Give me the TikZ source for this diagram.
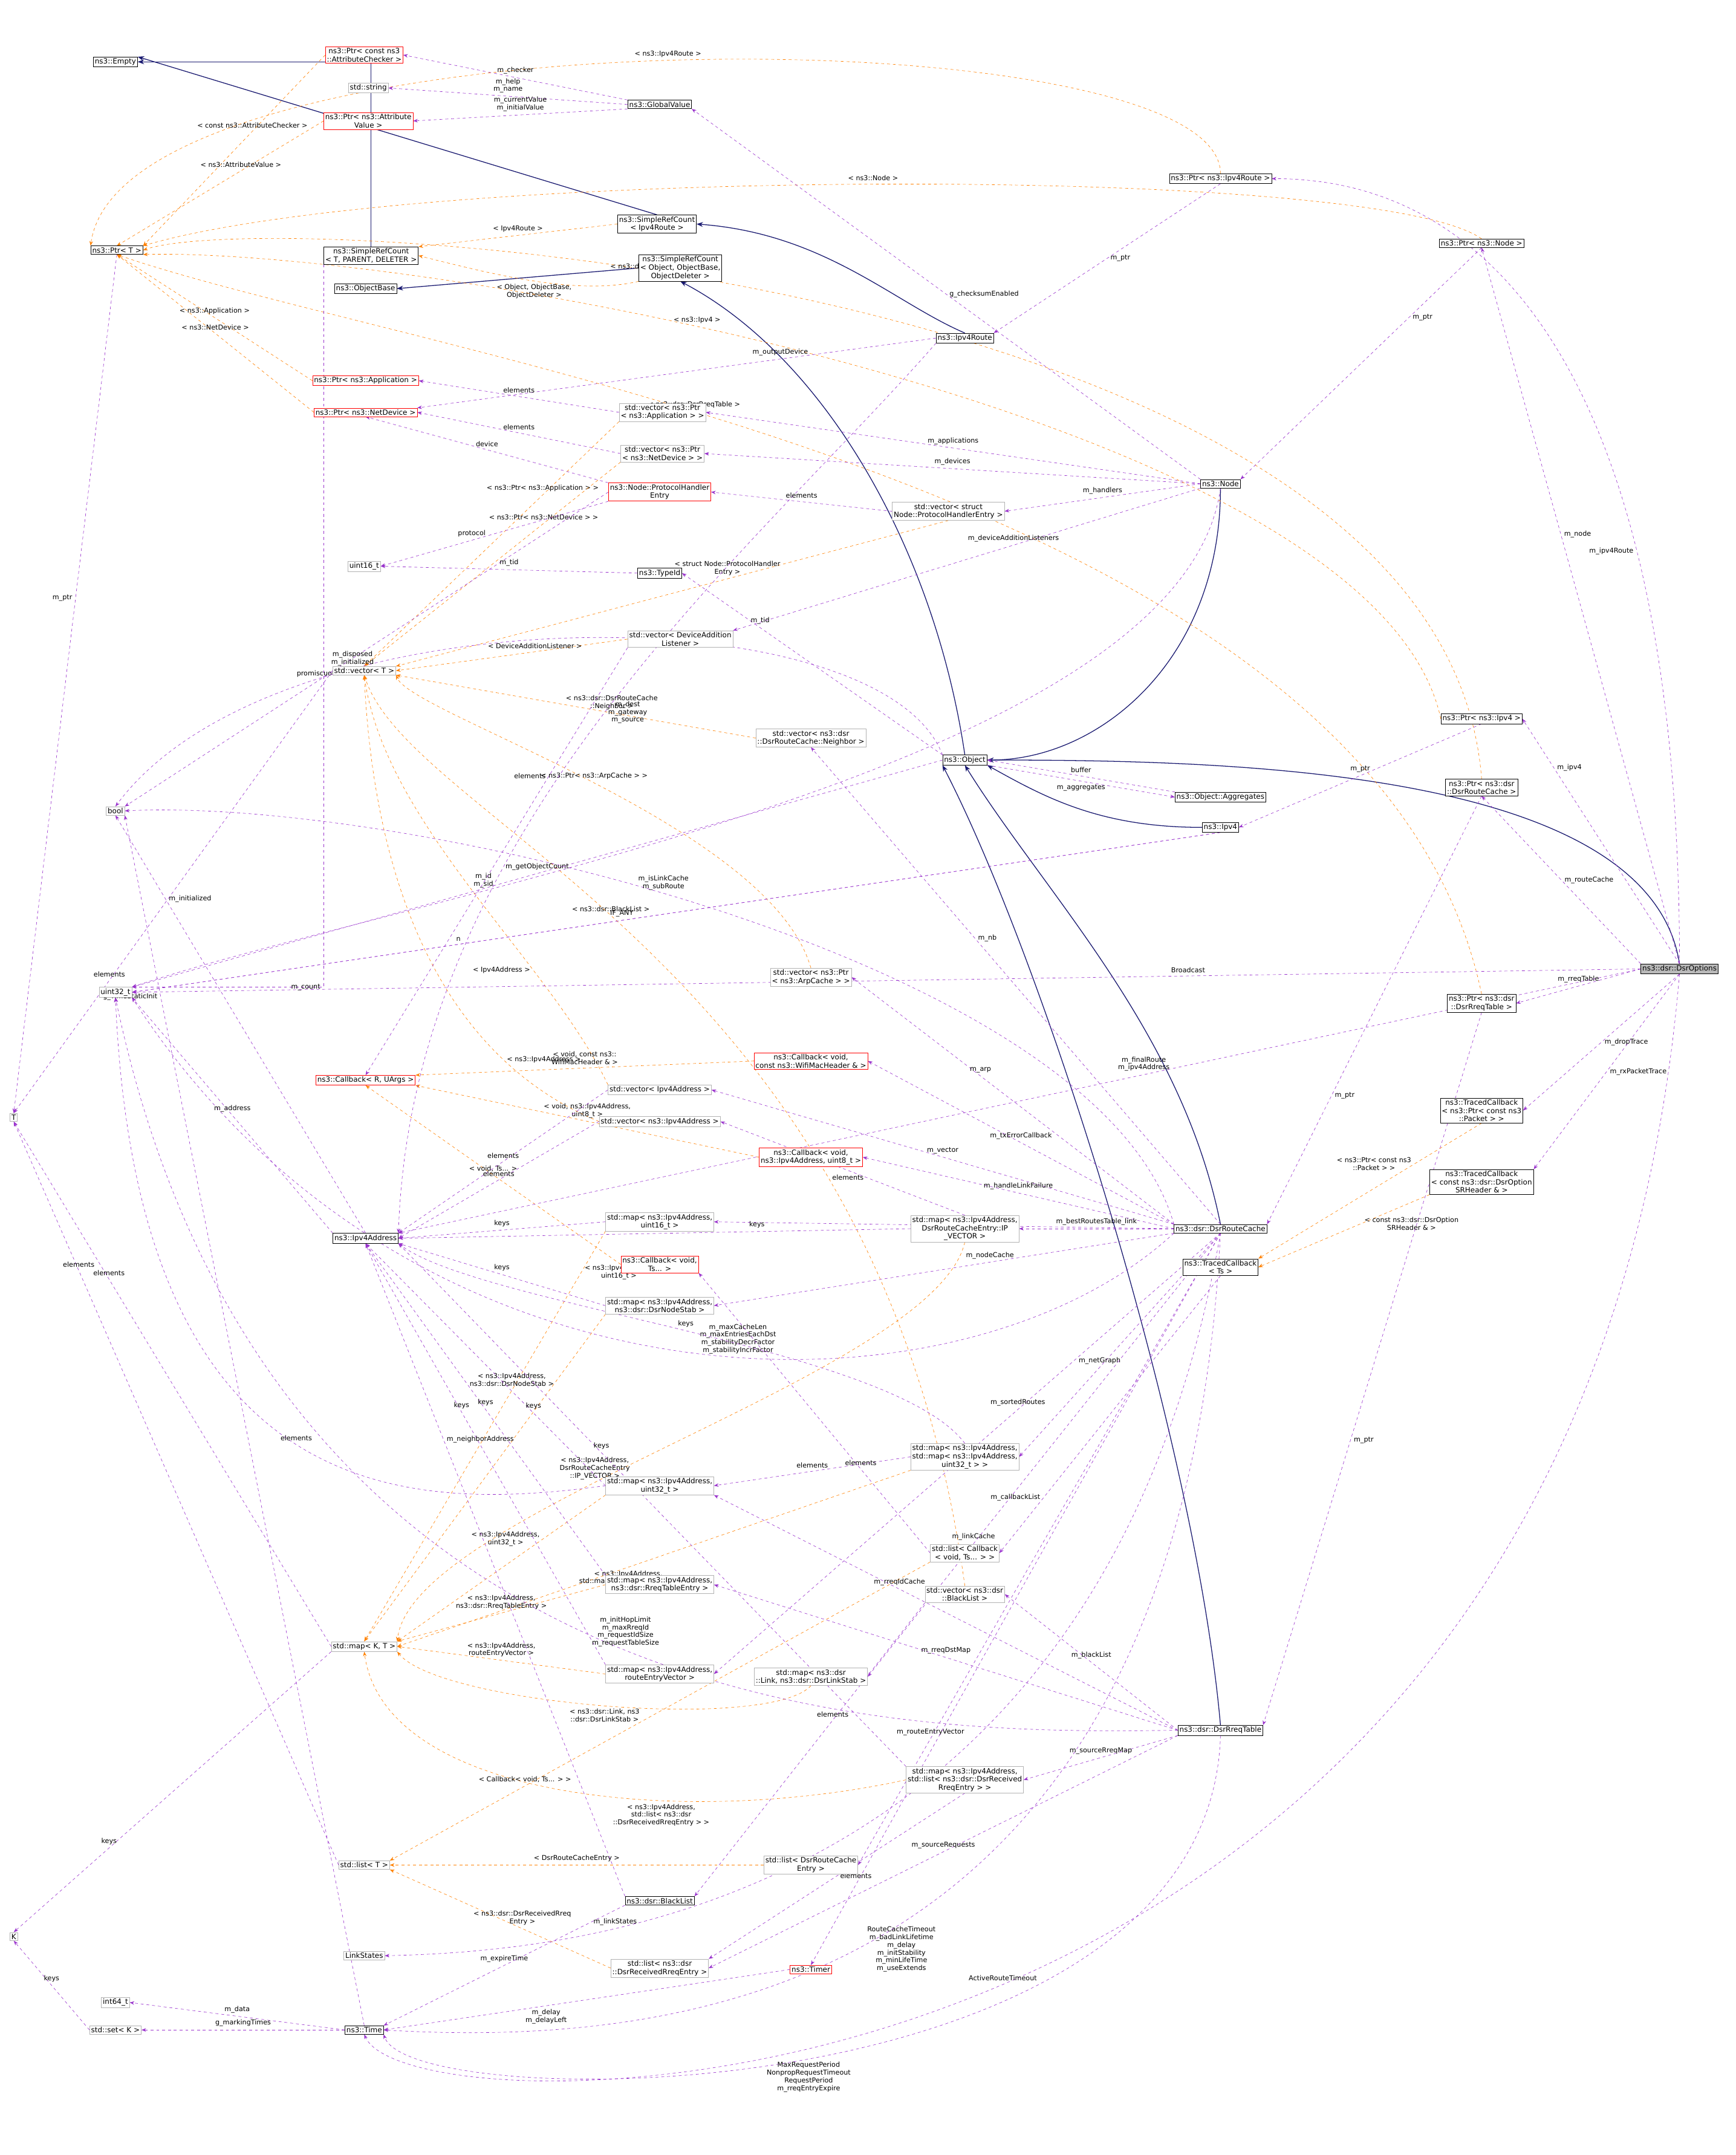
\documentclass[tikz,border=0pt]{standalone}
\usepackage{fontspec}
\setmainfont{DejaVu Sans}
\usetikzlibrary{arrows.meta}
\pgfdeclarelayer{bg}\pgfsetlayers{bg,main}
\begin{document}
\begin{tikzpicture}[x=0.05cm,y=-0.05cm,
 every node/.style={font=\fontsize{7.5}{8.5}\selectfont},
 cls/.style={draw=black,align=center,inner sep=1.5pt,fill=white},
 rcls/.style={draw=red,align=center,inner sep=1.5pt,fill=white},
 gcls/.style={draw=gray!60,align=center,inner sep=1.5pt,fill=white},
 mcls/.style={draw=black,fill=gray!55,align=center,inner sep=1.5pt},
 inh/.style={draw={rgb,255:red,25;green,25;blue,112},thick,-{Stealth}},
 mem/.style={draw={rgb,255:red,153;green,50;blue,204},dashed,-{Stealth}},
 tpl/.style={draw=orange,dashed,-{Stealth}},
 lb/.style={align=center,font=\fontsize{7}{8}\selectfont}]
\useasboundingbox (0,0) rectangle (1263,1568);
% nodes
\node[cls] (empty) at (84,45) {ns3::Empty};
\node[rcls] (pac) at (265,40) {ns3::Ptr< const ns3\\::AttributeChecker >};
\node[gcls] (str) at (268,64) {std::string};
\node[rcls] (pav) at (268,88) {ns3::Ptr< ns3::Attribute\\Value >};
\node[cls] (gv) at (480,76) {ns3::GlobalValue};
\node[cls] (srcr) at (478,163) {ns3::SimpleRefCount\\< Ipv4Route >};
\node[cls] (srct) at (270,186) {ns3::SimpleRefCount\\< T, PARENT, DELETER >};
\node[cls] (ptrT) at (85,182) {ns3::Ptr< T >};
\node[cls] (ob) at (266,210) {ns3::ObjectBase};
\node[cls] (srco) at (495,195) {ns3::SimpleRefCount\\< Object, ObjectBase,\\ObjectDeleter >};
\node[cls] (pir) at (888,130) {ns3::Ptr< ns3::Ipv4Route >};
\node[cls] (pnode) at (1078,177) {ns3::Ptr< ns3::Node >};
\node[cls] (iroute) at (702,246) {ns3::Ipv4Route};
\node[rcls] (papp) at (266,277) {ns3::Ptr< ns3::Application >};
\node[rcls] (pnd) at (266,300) {ns3::Ptr< ns3::NetDevice >};
\node[gcls] (vapp) at (482,300) {std::vector< ns3::Ptr\\< ns3::Application > >};
\node[gcls] (vnd) at (482,330) {std::vector< ns3::Ptr\\< ns3::NetDevice > >};
\node[rcls] (phe) at (480,358) {ns3::Node::ProtocolHandler\\Entry};
\node[cls] (node) at (888,352) {ns3::Node};
\node[gcls] (vphe) at (690,372) {std::vector< struct\\Node::ProtocolHandlerEntry >};
\node[gcls] (u16) at (265,412) {uint16\_t};
\node[cls] (tid) at (480,417) {ns3::TypeId};
\node[gcls] (vdal) at (495,465) {std::vector< DeviceAddition\\Listener >};
\node[gcls] (vT) at (265,488) {std::vector< T >};
\node[gcls] (vnb) at (590,537) {std::vector< ns3::dsr\\::DsrRouteCache::Neighbor >};
\node[cls] (obj) at (702,553) {ns3::Object};
\node[gcls] (bool) at (84,590) {bool};
\node[cls] (pipv4) at (1078,523) {ns3::Ptr< ns3::Ipv4 >};
\node[cls] (prc) at (1078,573) {ns3::Ptr< ns3::dsr\\::DsrRouteCache >};
\node[cls] (agg) at (888,580) {ns3::Object::Aggregates};
\node[cls] (ipv4) at (888,602) {ns3::Ipv4};
\node[mcls] (opt) at (1222,705) {ns3::dsr::DsrOptions};
\node[gcls] (varp) at (590,711) {std::vector< ns3::Ptr\\< ns3::ArpCache > >};
\node[gcls] (u32) at (84,722) {uint32\_t};
\node[cls] (prt) at (1078,730) {ns3::Ptr< ns3::dsr\\::DsrRreqTable >};
\node[rcls] (cbw) at (590,772) {ns3::Callback< void,\\const ns3::WifiMacHeader \& >};
\node[rcls] (cbR) at (266,786) {ns3::Callback< R, UArgs >};
\node[gcls] (via) at (480,793) {std::vector< Ipv4Address >};
\node[gcls] (T) at (10,813) {T};
\node[gcls] (vnia) at (480,816) {std::vector< ns3::Ipv4Address >};
\node[cls] (tcp) at (1078,808) {ns3::TracedCallback\\< ns3::Ptr< const ns3\\::Packet > >};
\node[rcls] (cbi) at (590,842) {ns3::Callback< void,\\ns3::Ipv4Address, uint8\_t >};
\node[cls] (tcs) at (1078,860) {ns3::TracedCallback\\< const ns3::dsr::DsrOption\\SRHeader \& >};
\node[cls] (ia) at (266,901) {ns3::Ipv4Address};
\node[gcls] (m16) at (480,889) {std::map< ns3::Ipv4Address,\\uint16\_t >};
\node[gcls] (mipv) at (702,894) {std::map< ns3::Ipv4Address,\\DsrRouteCacheEntry::IP\\\_VECTOR >};
\node[cls] (rc) at (888,894) {ns3::dsr::DsrRouteCache};
\node[cls] (tcT) at (888,922) {ns3::TracedCallback\\< Ts >};
\node[rcls] (cbv) at (480,920) {ns3::Callback< void,\\Ts... >};
\node[gcls] (mns) at (480,950) {std::map< ns3::Ipv4Address,\\ns3::dsr::DsrNodeStab >};
\node[gcls] (mmap) at (702,1060) {std::map< ns3::Ipv4Address,\\std::map< ns3::Ipv4Address,\\uint32\_t > >};
\node[gcls] (m32) at (480,1081) {std::map< ns3::Ipv4Address,\\uint32\_t >};
\node[gcls] (lcb) at (702,1130) {std::list< Callback\\< void, Ts... > >};
\node[gcls] (mrte) at (480,1153) {std::map< ns3::Ipv4Address,\\ns3::dsr::RreqTableEntry >};
\node[gcls] (vbl) at (702,1160) {std::vector< ns3::dsr\\::BlackList >};
\node[gcls] (mKT) at (265,1198) {std::map< K, T >};
\node[gcls] (mrev) at (480,1218) {std::map< ns3::Ipv4Address,\\routeEntryVector >};
\node[gcls] (mlink) at (590,1220) {std::map< ns3::dsr\\::Link, ns3::dsr::DsrLinkStab >};
\node[cls] (rt) at (888,1259) {ns3::dsr::DsrRreqTable};
\node[gcls] (mlist) at (702,1295) {std::map< ns3::Ipv4Address,\\std::list< ns3::dsr::DsrReceived\\RreqEntry > >};
\node[gcls] (lT) at (265,1357) {std::list< T >};
\node[gcls] (lrce) at (590,1357) {std::list< DsrRouteCache\\Entry >};
\node[cls] (bl) at (480,1383) {ns3::dsr::BlackList};
\node[gcls] (K) at (10,1409) {K};
\node[gcls] (ls) at (265,1423) {LinkStates};
\node[gcls] (lrre) at (480,1432) {std::list< ns3::dsr\\::DsrReceivedRreqEntry >};
\node[rcls] (timer) at (590,1433) {ns3::Timer};
\node[gcls] (i64) at (84,1457) {int64\_t};
\node[gcls] (sK) at (84,1477) {std::set< K >};
\node[cls] (time) at (265,1477) {ns3::Time};
\begin{pgfonlayer}{bg}
% inheritance
\draw[inh] (srct.north) -- (srct.north|-empty.east) -- (empty.east);
\draw[inh] (srcr.north) -- (empty.north east);
\draw[inh] (srco.west) -- (ob.east);
\draw[inh] (iroute.north) .. controls (650,220) and (600,170) .. (srcr.east);
\draw[inh] (obj.north) .. controls (680,400) and (600,260) .. (srco.south);
\draw[inh] (node.south) .. controls (888,480) and (800,553) .. (obj.east);
\draw[inh] (ipv4.west) .. controls (800,602) and (760,580) .. (obj.south east);
\draw[inh] (opt.north) .. controls (1200,560) and (900,553) .. (obj.east);
\draw[inh] (rc.north) .. controls (860,750) and (760,650) .. (obj.south);
\draw[inh] (rt.north) .. controls (870,1050) and (760,700) .. (obj.south west);
% templates
\draw[tpl] (pac.west) -- node[lb,above,pos=.4]{< const ns3::AttributeChecker >} (ptrT.north east);
\draw[tpl] (pav.west) -- node[lb,above,pos=.4]{< ns3::AttributeValue >} (ptrT.north);
\draw[tpl] (pir.north) .. controls (888,8) and (90,8) .. node[lb,above]{< ns3::Ipv4Route >} (ptrT.north west);
\draw[tpl] (pnode.north) .. controls (1000,118) and (300,122) .. node[lb,above,pos=.5]{< ns3::Node >} (ptrT.north east);
\draw[tpl] (srcr.west) -- node[lb,above]{< Ipv4Route >} (srct.north east);
\draw[tpl] (srco.south west) .. controls (420,215) and (360,200) .. node[lb,below,pos=.5]{< Object, ObjectBase,\\ObjectDeleter >} (srct.east);
\draw[tpl] (prc.north) .. controls (1050,200) and (200,150) .. node[lb,above,pos=.6]{< ns3::dsr::DsrRouteCache >} (ptrT.east);
\draw[tpl] (pipv4.west) .. controls (1000,300) and (300,180) .. node[lb,above,pos=.6]{< ns3::Ipv4 >} (ptrT.south east);
\draw[tpl] (prt.north) .. controls (1000,350) and (300,260) .. node[lb,above,pos=.6]{< ns3::dsr::DsrRreqTable >} (ptrT.south);
\draw[tpl] (papp.west) -- node[lb,above]{< ns3::Application >} (ptrT.south);
\draw[tpl] (pnd.west) -- node[lb,above]{< ns3::NetDevice >} (ptrT.south);
\draw[tpl] (vapp.south west) -- node[lb,above,pos=.3]{< ns3::Ptr< ns3::Application > >} (vT.north);
\draw[tpl] (vnd.south west) -- node[lb,above,pos=.3]{< ns3::Ptr< ns3::NetDevice > >} (vT.north);
\draw[tpl] (vphe.south) -- node[lb,above,pos=.4]{< struct Node::ProtocolHandler\\Entry >} (vT.north east);
\draw[tpl] (vdal.west) -- node[lb,above,pos=.4]{< DeviceAdditionListener >} (vT.east);
\draw[tpl] (vnb.west) -- node[lb,above,pos=.4]{< ns3::dsr::DsrRouteCache\\::Neighbor >} (vT.south east);
\draw[tpl] (varp.north) .. controls (560,600) and (300,520) .. node[lb,above,pos=.5]{< ns3::Ptr< ns3::ArpCache > >} (vT.south east);
\draw[tpl] (vbl.north) .. controls (640,700) and (300,600) .. node[lb,above,pos=.55]{< ns3::dsr::BlackList >} (vT.south);
\draw[tpl] (via.north west) .. controls (400,700) and (280,600) .. node[lb,left,pos=.3]{< Ipv4Address >} (vT.south);
\draw[tpl] (vnia.west) .. controls (300,760) and (270,600) .. node[lb,right,pos=.2]{< ns3::Ipv4Address >} (vT.south);
\draw[tpl] (cbw.west) -- node[lb,above,pos=.5]{< void, const ns3::\\WifiMacHeader \& >} (cbR.north east);
\draw[tpl] (cbi.west) -- node[lb,above,pos=.5]{< void, ns3::Ipv4Address,\\uint8\_t >} (cbR.south east);
\draw[tpl] (cbv.west) -- node[lb,above,pos=.5]{< void, Ts... >} (cbR.south);
\draw[tpl] (tcp.south) -- node[lb,left,pos=.3]{< ns3::Ptr< const ns3\\::Packet > >} (tcT.north east);
\draw[tpl] (tcs.south west) -- node[lb,right,pos=.4]{< const ns3::dsr::DsrOption\\SRHeader \& >} (tcT.east);
\draw[tpl] (m16.south west) -- node[lb,right,pos=.1]{< ns3::Ipv4Address,\\uint16\_t >} (mKT.north);
\draw[tpl] (mipv.south) .. controls (680,1000) and (300,1100) .. node[lb,above,pos=.6]{< ns3::Ipv4Address,\\DsrRouteCacheEntry\\::IP\_VECTOR >} (mKT.north east);
\draw[tpl] (mns.south west) -- node[lb,left,pos=.2]{< ns3::Ipv4Address,\\ns3::dsr::DsrNodeStab >} (mKT.north);
\draw[tpl] (mmap.south west) -- node[lb,below,pos=.55]{< ns3::Ipv4Address,\\std::map< ns3::Ipv4Address,\\uint32\_t > >} (mKT.east);
\draw[tpl] (m32.south west) -- node[lb,left,pos=.3]{< ns3::Ipv4Address,\\uint32\_t >} (mKT.north east);
\draw[tpl] (mrte.west) -- node[lb,above,pos=.5]{< ns3::Ipv4Address,\\ns3::dsr::RreqTableEntry >} (mKT.north east);
\draw[tpl] (mrev.west) -- node[lb,above,pos=.5]{< ns3::Ipv4Address,\\routeEntryVector >} (mKT.east);
\draw[tpl] (mlink.south) .. controls (560,1260) and (320,1240) .. node[lb,below,pos=.5]{< ns3::dsr::Link, ns3\\::dsr::DsrLinkStab >} (mKT.south east);
\draw[tpl] (mlist.west) .. controls (500,1330) and (280,1310) .. node[lb,below,pos=.35]{< ns3::Ipv4Address,\\std::list< ns3::dsr\\::DsrReceivedRreqEntry > >} (mKT.south);
\draw[tpl] (lcb.south west) -- node[lb,above,pos=.75]{< Callback< void, Ts... > >} (lT.north east);
\draw[tpl] (lrce.west) -- node[lb,above]{< DsrRouteCacheEntry >} (lT.east);
\draw[tpl] (lrre.west) -- node[lb,above,pos=.4]{< ns3::dsr::DsrReceivedRreq\\Entry >} (lT.south east);
% members
\draw[mem] (gv.north west) -- node[lb,above]{m\_checker} (pac.east);
\draw[mem] (gv.west) -- node[lb,above]{m\_help\\m\_name} (str.east);
\draw[mem] (gv.south west) -- node[lb,above]{m\_currentValue\\m\_initialValue} (pav.east);
\draw[mem] (srct.south west) -- (srct.south west|-u32.north) -- node[lb,left,pos=0]{m\_count} (u32.north east);
\draw[mem] (pir.south) -- node[lb,right]{m\_ptr} (iroute.north east);
\draw[mem] (pnode.south) -- node[lb,right,pos=.3]{m\_ptr} (node.north east);
\draw[mem] (iroute.west) -- node[lb,above,pos=.3]{m\_outputDevice} (pnd.north east);
\draw[mem] (iroute.south west) .. controls (550,400) and (300,600) .. node[lb,right,pos=.5]{m\_dest\\m\_gateway\\m\_source} (ia.north east);
\draw[mem] (vapp.west) -- node[lb,above]{elements} (papp.east);
\draw[mem] (vnd.west) -- node[lb,above]{elements} (pnd.east);
\draw[mem] (node.west) -- node[lb,above,pos=.5]{m\_applications} (vapp.east);
\draw[mem] (node.west) -- node[lb,above,pos=.5]{m\_devices} (vnd.east);
\draw[mem] (node.west) -- node[lb,above]{m\_handlers} (vphe.east);
\draw[mem] (node.south west) -- node[lb,above,pos=.4]{m\_deviceAdditionListeners} (vdal.north east);
\draw[mem] (node.north west) -- node[lb,right,pos=.5]{g\_checksumEnabled} (gv.south east);
\draw[mem] (node.south) .. controls (860,560) and (300,650) .. node[lb,above,pos=.7]{m\_id\\m\_sid} (u32.north east);
\draw[mem] (vphe.west) -- node[lb,above]{elements} (phe.east);
\draw[mem] (phe.north west) -- node[lb,above]{device} (pnd.south);
\draw[mem] (phe.west) -- node[lb,above,pos=.6]{promiscuous} (bool.north east);
\draw[mem] (phe.south west) -- node[lb,above,pos=.6]{protocol} (u16.east);
\draw[mem] (tid.west) -- node[lb,above]{m\_tid} (u16.east);
\draw[mem] (obj.north west) -- node[lb,above,pos=.7]{m\_tid} (tid.east);
\draw[mem] (obj.north west) .. controls (640,430) and (200,430) .. node[lb,above,pos=.7]{m\_disposed\\m\_initialized} (bool.north);
\draw[mem] (obj.south east) -- node[lb,below]{m\_aggregates} (agg.west);
\draw[mem] (agg.north west) -- node[lb,above]{buffer} (obj.east);
\draw[mem] (obj.west) -- node[lb,above,pos=.5]{m\_getObjectCount} (u32.north east);
\draw[mem] (vdal.south west) -- node[lb,left,pos=.3]{elements} (cbR.north);
\draw[mem] (pipv4.south) -- node[lb,above]{m\_ptr} (ipv4.east);
\draw[mem] (ipv4.south) -- node[lb,above,pos=.7]{n} (u32.east);
\draw[mem] (ipv4.south) -- node[lb,above,pos=.55]{IF\_ANY} (u32.east);
\draw[mem] (prc.south) -- node[lb,right,pos=.7]{m\_ptr} (rc.north east);
\draw[mem] (prt.south) -- node[lb,right,pos=.6]{m\_ptr} (rt.north east);
\draw[mem] (opt.north) .. controls (1222,300) and (1100,130) .. node[lb,left,pos=.3]{m\_ipv4Route} (pir.east);
\draw[mem] (opt.north) -- node[lb,right,pos=.6]{m\_node} (pnode.south);
\draw[mem] (opt.north) -- node[lb,right,pos=.8]{m\_ipv4} (pipv4.east);
\draw[mem] (opt.north west) -- node[lb,right]{m\_routeCache} (prc.south);
\draw[mem] (opt.west) -- node[lb,above]{m\_rreqTable} (prt.east);
\draw[mem] (opt.south) -- node[lb,right]{m\_dropTrace} (tcp.east);
\draw[mem] (opt.south) -- node[lb,right]{m\_rxPacketTrace} (tcs.north east);
\draw[mem] (opt.west) -- node[lb,above,pos=.4]{m\_finalRoute\\m\_ipv4Address} (ia.north east);
\draw[mem] (opt.west) -- node[lb,above,pos=.3]{Broadcast} (u32.east);
\draw[mem] (opt.south) .. controls (1150,1560) and (300,1560) .. node[lb,above,pos=.5]{ActiveRouteTimeout} (time.south);
\draw[mem] (rc.north) -- node[lb,right,pos=.6]{m\_nb} (vnb.south);
\draw[mem] (rc.north west) -- node[lb,above,pos=.6]{m\_arp} (varp.east);
\draw[mem] (rc.north west) -- node[lb,above]{m\_txErrorCallback} (cbw.east);
\draw[mem] (rc.north west) -- node[lb,above]{m\_vector} (via.east);
\draw[mem] (rc.west) -- node[lb,above]{m\_handleLinkFailure} (cbi.east);
\draw[mem] (rc.west) -- node[lb,above]{m\_bestRoutesTable\_link} (mipv.east);
\draw[mem] (rc.west) -- node[lb,above,pos=.4]{m\_ackIdCache} (m16.east);
\draw[mem] (rc.south west) -- node[lb,above,pos=.4]{m\_nodeCache} (mns.east);
\draw[mem] (rc.south west) .. controls (700,1040) and (300,1040) .. node[lb,above,pos=.45]{m\_maxCacheLen\\m\_maxEntriesEachDst\\m\_stabilityDecrFactor\\m\_stabilityIncrFactor} (u32.south east);
\draw[mem] (rc.south) -- node[lb,above,pos=.6]{m\_netGraph} (mmap.east);
\draw[mem] (tcT.south) -- node[lb,left,pos=.8]{m\_callbackList} (lcb.east);
\draw[mem] (rc.south) -- node[lb,above,pos=.4]{m\_sortedRoutes} (mrev.east);
\draw[mem] (rc.south) -- node[lb,above,pos=.7]{m\_linkCache} (mlink.east);
\draw[mem] (rc.south) -- node[lb,above,pos=.8]{m\_routeEntryVector} (lrce.east);
\draw[mem] (rc.south) -- node[lb,right,pos=.75]{m\_ntimer} (timer.north);
\draw[mem] (rc.south) .. controls (860,1450) and (500,1490) .. node[lb,below,pos=.5]{RouteCacheTimeout\\m\_badLinkLifetime\\m\_delay\\m\_initStability\\m\_minLifeTime\\m\_useExtends} (time.east);
\draw[mem] (rc.north west) .. controls (800,700) and (300,580) .. node[lb,above,pos=.55]{m\_isLinkCache\\m\_subRoute} (bool.east);
\draw[mem] (rc.south) .. controls (800,1400) and (400,1420) .. node[lb,above,pos=.7]{m\_linkStates} (ls.east);
\draw[mem] (via.west) -- node[lb,above,pos=.5]{elements} (ia.north east);
\draw[mem] (vnia.west) -- node[lb,above,pos=.5]{elements} (ia.east);
\draw[mem] (m16.west) -- node[lb,above]{keys} (ia.east);
\draw[mem] (mipv.west) -- node[lb,above,pos=.3]{keys} (ia.east);
\draw[mem] (mipv.north) -- node[lb,left,pos=.4]{elements} (vnia.east);
\draw[mem] (mns.west) -- node[lb,above]{keys} (ia.south east);
\draw[mem] (mmap.north) .. controls (650,980) and (350,950) .. node[lb,above,pos=.5]{keys} (ia.south east);
\draw[mem] (mmap.west) -- node[lb,above]{elements} (m32.east);
\draw[mem] (m32.west) -- node[lb,above,pos=.3]{keys} (ia.south);
\draw[mem] (m32.west) .. controls (300,1100) and (100,1100) .. node[lb,above,pos=.5]{elements} (u32.south);
\draw[mem] (mrte.north west) -- node[lb,above,pos=.5]{keys} (ia.south);
\draw[mem] (mrev.north west) -- node[lb,above,pos=.6]{keys} (ia.south);
\draw[mem] (vbl.south west) -- node[lb,above,pos=.4]{elements} (bl.north east);
\draw[mem] (mlist.north west) -- node[lb,above,pos=.6]{keys} (ia.south east);
\draw[mem] (mlist.south) -- node[lb,right,pos=.5]{elements} (lrre.north east);
\draw[mem] (lcb.west) -- node[lb,above,pos=.3]{elements} (cbv.south east);
\draw[mem] (bl.north west) -- node[lb,right,pos=.7]{m\_neighborAddress} (ia.south);
\draw[mem] (bl.south west) -- node[lb,above,pos=.5]{m\_expireTime} (time.north east);
\draw[mem] (rt.west) -- node[lb,above,pos=.6]{m\_rreqIdCache} (m32.south east);
\draw[mem] (rt.west) -- node[lb,above,pos=.5]{m\_blackList} (vbl.east);
\draw[mem] (rt.west) -- node[lb,above,pos=.5]{m\_rreqDstMap} (mrte.east);
\draw[mem] (rt.south west) -- node[lb,above,pos=.5]{m\_sourceRreqMap} (mlist.east);
\draw[mem] (rt.south west) -- node[lb,above,pos=.5]{m\_sourceRequests} (lrre.east);
\draw[mem] (rt.west) .. controls (700,1260) and (200,1280) .. node[lb,above,pos=.5]{m\_initHopLimit\\m\_maxRreqId\\m\_requestIdSize\\m\_requestTableSize} (u32.south);
\draw[mem] (rt.south) .. controls (880,1540) and (300,1540) .. node[lb,below,pos=.5]{MaxRequestPeriod\\NonpropRequestTimeout\\RequestPeriod\\m\_rreqEntryExpire} (time.south east);
\draw[mem] (timer.west) -- node[lb,below,pos=.6]{m\_delay\\m\_delayLeft} (time.east);
\draw[mem] (time.west) -- node[lb,above]{m\_data} (i64.east);
\draw[mem] (time.west) -- node[lb,above]{g\_markingTimes} (sK.east);
\draw[mem] (time.north) -- node[lb,left,pos=.85]{g\_TimeStaticInit} (bool.south east);
\draw[mem] (ia.north west) -- node[lb,above,pos=.5]{m\_address} (u32.south east);
\draw[mem] (ia.north) -- node[lb,right,pos=.8]{m\_initialized} (bool.south);
\draw[mem] (ptrT.south) -- node[lb,left,pos=.4]{m\_ptr} (T.north);
\draw[mem] (vT.west) -- node[lb,above,pos=.7]{elements} (T.north);
\draw[mem] (mKT.west) -- node[lb,above,pos=.7]{elements} (T.south);
\draw[mem] (lT.west) -- node[lb,above,pos=.8]{elements} (T.south);
\draw[mem] (mKT.south west) -- node[lb,above,pos=.7]{keys} (K.north);
\draw[mem] (sK.west) -- node[lb,above]{keys} (K.south);
\end{pgfonlayer}
\end{tikzpicture}
\end{document}
